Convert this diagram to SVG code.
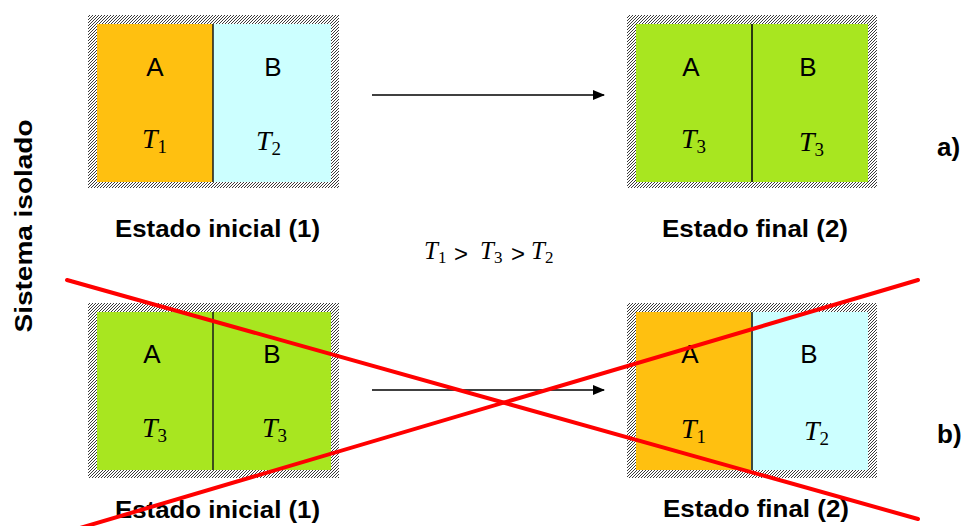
<svg xmlns="http://www.w3.org/2000/svg" width="969" height="526" viewBox="0 0 969 526">
<defs>
<pattern id="hatch" patternUnits="userSpaceOnUse" width="3" height="3">
<rect width="3" height="3" fill="#ffffff"/>
<path d="M-1,1 l2,-2 M0,3 l3,-3 M2,4 l2,-2" stroke="#3a3a3a" stroke-width="1"/>
</pattern>
<marker id="arr" markerWidth="12" markerHeight="10" refX="11" refY="5" orient="auto" markerUnits="userSpaceOnUse">
<path d="M0,0 L12,5 L0,10 Z" fill="#000"/>
</marker>
<style>
.frame{fill:url(#hatch)}
.or{fill:#FFC010}
.cy{fill:#CCFFFF}
.gr{fill:#A8E620}
.div{stroke:#1a1a1a;stroke-width:1.5}
.lab{font-family:"Liberation Sans",Arial,sans-serif;font-size:26px;text-anchor:middle;fill:#000}
.t{font-family:"Liberation Serif","Times New Roman",serif;font-style:italic;font-size:28px;fill:#000}
.sub{font-style:normal;font-size:19px}
.ft{font-family:"Liberation Serif","Times New Roman",serif;font-style:italic;font-size:25px;fill:#000}
.fsub{font-style:normal;font-size:17px}
.gt{font-family:"Liberation Sans",Arial,sans-serif;font-size:24px;fill:#000}
.cap{font-family:"Liberation Sans",Arial,sans-serif;font-weight:bold;font-size:24px;fill:#000}
.arrow{stroke:#000;stroke-width:1.3;fill:none}
.cross{stroke:#FF0000;stroke-width:4;stroke-linecap:round}
</style>
</defs>
<rect width="969" height="526" fill="#ffffff"/>

<g id="side-label">
<text class="cap" transform="translate(32,226) rotate(-90)" text-anchor="middle" textLength="213" lengthAdjust="spacingAndGlyphs">Sistema isolado</text>
</g>

<g id="box-a-initial">
<rect class="frame" x="88" y="15" width="251" height="173"/>
<rect class="or" x="97" y="24" width="116" height="158"/>
<rect class="cy" x="213" y="24" width="118" height="158"/>
<line class="div" x1="213" y1="24" x2="213" y2="182"/>
<text class="lab" x="155" y="76">A</text>
<text class="lab" x="273" y="76">B</text>
<text class="t" x="142" y="148">T<tspan class="sub" dy="5">1</tspan></text>
<text class="t" x="256" y="150">T<tspan class="sub" dy="5">2</tspan></text>
</g>

<g id="box-a-final">
<rect class="frame" x="627" y="15" width="250" height="173"/>
<rect class="gr" x="636" y="24" width="232" height="158"/>
<line class="div" x1="752" y1="24" x2="752" y2="182" style="stroke:#2a3a10;stroke-width:2"/>
<text class="lab" x="691" y="76">A</text>
<text class="lab" x="808" y="76">B</text>
<text class="t" x="681" y="148">T<tspan class="sub" dy="5">3</tspan></text>
<text class="t" x="799" y="151">T<tspan class="sub" dy="5">3</tspan></text>
</g>

<g id="box-b-initial">
<rect class="frame" x="88" y="303" width="251" height="175"/>
<rect class="gr" x="97" y="312" width="234" height="158"/>
<line class="div" x1="213" y1="312" x2="213" y2="470"/>
<text class="lab" x="152" y="363">A</text>
<text class="lab" x="272" y="363">B</text>
<text class="t" x="142" y="437">T<tspan class="sub" dy="5">3</tspan></text>
<text class="t" x="262" y="437">T<tspan class="sub" dy="5">3</tspan></text>
</g>

<g id="box-b-final">
<rect class="frame" x="627" y="303" width="250" height="175"/>
<rect class="or" x="636" y="312" width="116" height="158"/>
<rect class="cy" x="752" y="312" width="116" height="158"/>
<line class="div" x1="752" y1="312" x2="752" y2="470" style="stroke:#3a4a40;stroke-width:2"/>
<text class="lab" x="690" y="363">A</text>
<text class="lab" x="809" y="363">B</text>
<text class="t" x="681" y="438">T<tspan class="sub" dy="5">1</tspan></text>
<text class="t" x="804" y="440">T<tspan class="sub" dy="5">2</tspan></text>
</g>

<g id="captions">
<text class="cap" x="115" y="237" textLength="205" lengthAdjust="spacingAndGlyphs">Estado inicial (1)</text>
<text class="cap" x="662" y="237" textLength="186" lengthAdjust="spacingAndGlyphs">Estado final (2)</text>
<text class="cap" x="115" y="518" textLength="205" lengthAdjust="spacingAndGlyphs">Estado inicial (1)</text>
<text class="cap" x="663" y="517" textLength="186" lengthAdjust="spacingAndGlyphs">Estado final (2)</text>
<text class="cap" x="937" y="156" style="font-size:26px">a)</text>
<text class="cap" x="937" y="443" style="font-size:26px">b)</text>
</g>

<g id="relation">
<text class="ft" x="424" y="259">T<tspan class="fsub" dy="4">1</tspan></text>
<text class="gt" x="454" y="262">&gt;</text>
<text class="ft" x="480" y="259">T<tspan class="fsub" dy="4">3</tspan></text>
<text class="gt" x="511" y="262">&gt;</text>
<text class="ft" x="531" y="259">T<tspan class="fsub" dy="4">2</tspan></text>
</g>

<g id="connectors">
<line class="arrow" x1="372" y1="95" x2="604" y2="95" marker-end="url(#arr)"/>
<line class="arrow" x1="372" y1="390" x2="604" y2="390" marker-end="url(#arr)"/>
</g>

<g id="cross">
<line class="cross" x1="67" y1="280" x2="918" y2="519"/>
<line class="cross" x1="80" y1="528" x2="918" y2="280"/>
</g>
</svg>
